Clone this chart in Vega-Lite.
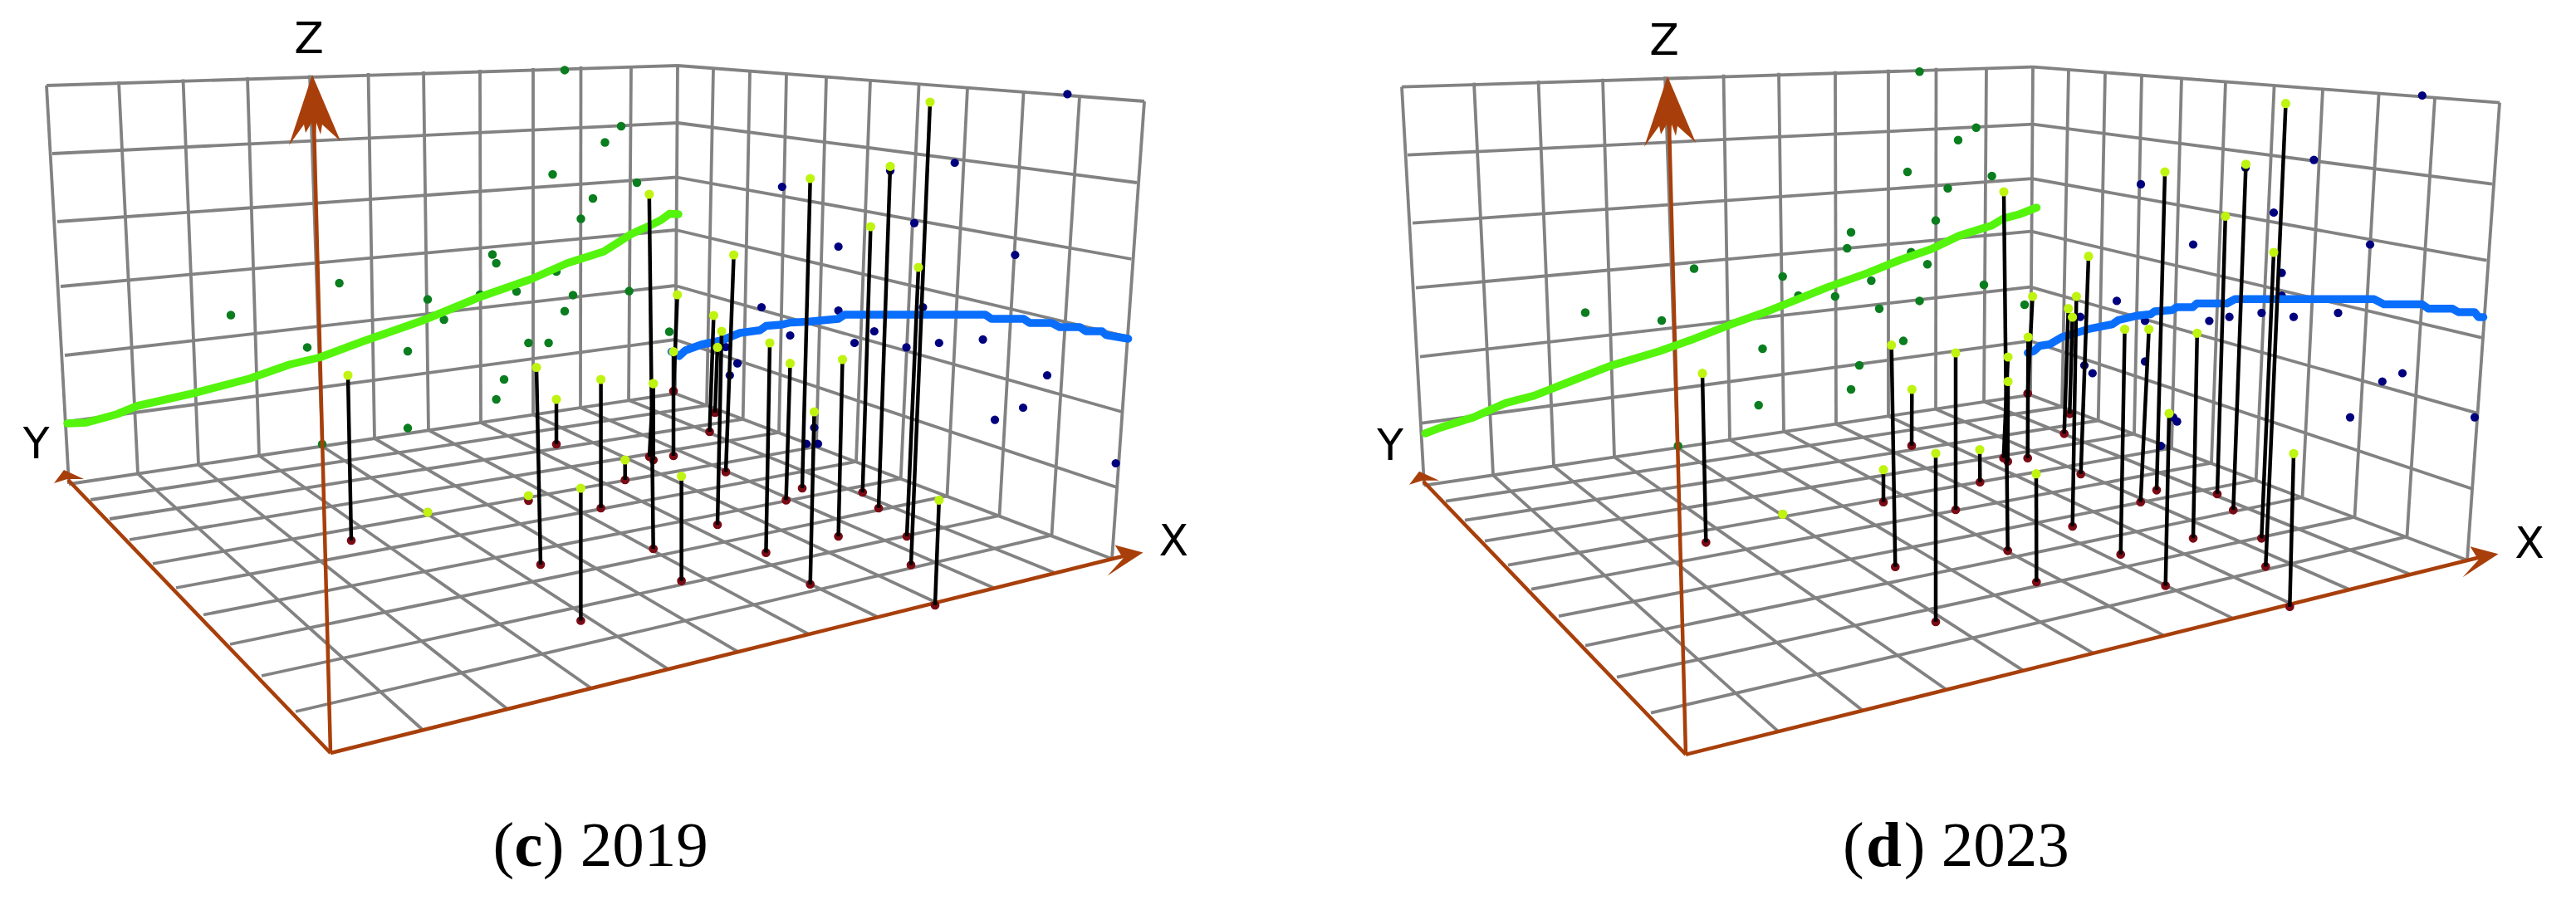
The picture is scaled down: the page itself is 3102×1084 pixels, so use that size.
{
"$schema":"https://vega.github.io/schema/vega-lite/v6.json",
"width":3102,"height":1084,"padding":0,"background":"white",
"autosize":{"type":"fit","contains":"padding"},
"config":{"view":{"stroke":null}},
"datasets":{
"grid":[
{"x":56,"y":103,"x2":83,"y2":583},{"x":143,"y":98,"x2":166,"y2":570.6},{"x":220.5,"y":95.5,"x2":239,"y2":559.7},{"x":298,"y":93,"x2":312,"y2":548.8},{"x":373,"y":90.5,"x2":388,"y2":537.5},{"x":443.5,"y":88,"x2":451,"y2":528},{"x":510,"y":86,"x2":516,"y2":518},{"x":578,"y":84,"x2":579,"y2":509},{"x":642,"y":82,"x2":642,"y2":499.5},{"x":699.5,"y":80,"x2":699,"y2":491},{"x":760,"y":79.5,"x2":757,"y2":482},{"x":816,"y":79,"x2":813,"y2":474},
{"x":56,"y":103,"x2":816,"y2":79},{"x":63,"y":185,"x2":816,"y2":148},{"x":69,"y":267,"x2":815,"y2":213.5},{"x":73,"y":345,"x2":814,"y2":277},{"x":78,"y":428,"x2":813,"y2":344},{"x":80,"y":508,"x2":813,"y2":409},{"x":83,"y":583,"x2":813,"y2":474},
{"x":859,"y":82.5,"x2":851,"y2":488.3},{"x":903,"y":85.9,"x2":894.7,"y2":504.8},{"x":947,"y":89.2,"x2":938,"y2":521},{"x":995,"y":92.9,"x2":983,"y2":538},{"x":1048,"y":97,"x2":1031,"y2":556},{"x":1106.6,"y":101.5,"x2":1084.7,"y2":576.3},{"x":1165,"y":106,"x2":1140.5,"y2":597.3},{"x":1232.6,"y":111,"x2":1203.5,"y2":621},{"x":1300,"y":116.3,"x2":1266.5,"y2":644.7},{"x":1378,"y":122,"x2":1339,"y2":673},
{"x":816,"y":79,"x2":1378,"y2":122},{"x":816,"y":148,"x2":1369,"y2":220},{"x":815,"y":213.5,"x2":1362.5,"y2":312},{"x":814,"y":277,"x2":1356,"y2":405},{"x":813,"y":344,"x2":1351,"y2":496},{"x":813,"y":409,"x2":1345,"y2":587},{"x":813,"y":474,"x2":1339,"y2":673},
{"x":109,"y":602,"x2":851,"y2":488.3},{"x":132,"y":625,"x2":894.7,"y2":504.8},{"x":156,"y":650,"x2":938,"y2":521},{"x":184,"y":679,"x2":983,"y2":538},{"x":212,"y":708,"x2":1031,"y2":556},{"x":245,"y":740.5,"x2":1084.7,"y2":576.3},{"x":277,"y":776,"x2":1140.5,"y2":597.3},{"x":315,"y":814,"x2":1203.5,"y2":621},{"x":356,"y":857,"x2":1266.5,"y2":644.7},
{"x":509,"y":879,"x2":166,"y2":570.6},{"x":611,"y":854,"x2":239,"y2":559.7},{"x":712,"y":829,"x2":312,"y2":548.8},{"x":804,"y":805.6,"x2":388,"y2":537.5},{"x":888,"y":784.6,"x2":451,"y2":528},{"x":973,"y":763.4,"x2":516,"y2":518},{"x":1056,"y":742.7,"x2":579,"y2":509},{"x":1126,"y":725,"x2":642,"y2":499.5},{"x":1196,"y":707.7,"x2":699,"y2":491},{"x":1269,"y":689.5,"x2":757,"y2":482},
{"x":1688,"y":104.7,"x2":1715,"y2":584.7},{"x":1775,"y":99.7,"x2":1798,"y2":572.3},{"x":1852.5,"y":97.2,"x2":1871,"y2":561.4},{"x":1930,"y":94.7,"x2":1944,"y2":550.5},{"x":2005,"y":92.2,"x2":2020,"y2":539.2},{"x":2075.5,"y":89.7,"x2":2083,"y2":529.7},{"x":2142,"y":87.7,"x2":2148,"y2":519.7},{"x":2210,"y":85.7,"x2":2211,"y2":510.7},{"x":2274,"y":83.7,"x2":2274,"y2":501.2},{"x":2331.5,"y":81.7,"x2":2331,"y2":492.7},{"x":2392,"y":81.2,"x2":2389,"y2":483.7},{"x":2448,"y":80.7,"x2":2445,"y2":475.7},
{"x":1688,"y":104.7,"x2":2448,"y2":80.7},{"x":1695,"y":186.7,"x2":2448,"y2":149.7},{"x":1701,"y":268.7,"x2":2447,"y2":215.2},{"x":1705,"y":346.7,"x2":2446,"y2":278.7},{"x":1710,"y":429.7,"x2":2445,"y2":345.7},{"x":1712,"y":509.7,"x2":2445,"y2":410.7},{"x":1715,"y":584.7,"x2":2445,"y2":475.7},
{"x":2491,"y":84.2,"x2":2483,"y2":490},{"x":2535,"y":87.6,"x2":2526.7,"y2":506.5},{"x":2579,"y":90.9,"x2":2570,"y2":522.7},{"x":2627,"y":94.6,"x2":2615,"y2":539.7},{"x":2680,"y":98.7,"x2":2663,"y2":557.7},{"x":2738.6,"y":103.2,"x2":2716.7,"y2":578},{"x":2797,"y":107.7,"x2":2772.5,"y2":599},{"x":2864.6,"y":112.7,"x2":2835.5,"y2":622.7},{"x":2932,"y":118,"x2":2898.5,"y2":646.4},{"x":3010,"y":123.7,"x2":2971,"y2":674.7},
{"x":2448,"y":80.7,"x2":3010,"y2":123.7},{"x":2448,"y":149.7,"x2":3001,"y2":221.7},{"x":2447,"y":215.2,"x2":2994.5,"y2":313.7},{"x":2446,"y":278.7,"x2":2988,"y2":406.7},{"x":2445,"y":345.7,"x2":2983,"y2":497.7},{"x":2445,"y":410.7,"x2":2977,"y2":588.7},{"x":2445,"y":475.7,"x2":2971,"y2":674.7},
{"x":1741,"y":603.7,"x2":2483,"y2":490},{"x":1764,"y":626.7,"x2":2526.7,"y2":506.5},{"x":1788,"y":651.7,"x2":2570,"y2":522.7},{"x":1816,"y":680.7,"x2":2615,"y2":539.7},{"x":1844,"y":709.7,"x2":2663,"y2":557.7},{"x":1877,"y":742.2,"x2":2716.7,"y2":578},{"x":1909,"y":777.7,"x2":2772.5,"y2":599},{"x":1947,"y":815.7,"x2":2835.5,"y2":622.7},{"x":1988,"y":858.7,"x2":2898.5,"y2":646.4},
{"x":2141,"y":880.7,"x2":1798,"y2":572.3},{"x":2243,"y":855.7,"x2":1871,"y2":561.4},{"x":2344,"y":830.7,"x2":1944,"y2":550.5},{"x":2436,"y":807.3,"x2":2020,"y2":539.2},{"x":2520,"y":786.3,"x2":2083,"y2":529.7},{"x":2605,"y":765.1,"x2":2148,"y2":519.7},{"x":2688,"y":744.4,"x2":2211,"y2":510.7},{"x":2758,"y":726.7,"x2":2274,"y2":501.2},{"x":2828,"y":709.4,"x2":2331,"y2":492.7},{"x":2901,"y":691.2,"x2":2389,"y2":483.7}
],
"axes":[
{"x":398,"y":907,"x2":1352,"y2":670},{"x":398,"y":907,"x2":82,"y2":578},{"x":398,"y":907,"x2":378,"y2":148},
{"x":2030,"y":908.7,"x2":2984,"y2":671.7},{"x":2030,"y":908.7,"x2":1714,"y2":579.7},{"x":2030,"y":908.7,"x2":2010,"y2":149.7}
],
"greenDots":[
{"x":680,"y":84.4},{"x":748,"y":152},{"x":728.5,"y":171.5},{"x":665.5,"y":210},{"x":714,"y":239},{"x":699.5,"y":263.5},{"x":593,"y":306.5},{"x":597.6,"y":317},{"x":408.6,"y":341},{"x":278,"y":379.5},{"x":515,"y":360.6},{"x":578,"y":354.7},{"x":622,"y":351},{"x":670,"y":327},{"x":690,"y":355.4},{"x":757.6,"y":350.6},{"x":680,"y":374.7},{"x":534.6,"y":385},{"x":370,"y":418.4},{"x":491,"y":423},{"x":636.4,"y":413},{"x":660.6,"y":413},{"x":607,"y":457},{"x":597.6,"y":481},{"x":491,"y":515.6},{"x":388,"y":535},{"x":767,"y":220},{"x":806,"y":399.5},
{"x":2311.5,"y":86.2},{"x":2358,"y":168.8},{"x":2297,"y":207},{"x":2345.5,"y":226.7},{"x":2331,"y":265.6},{"x":2229,"y":279.7},{"x":2224.3,"y":299},{"x":2301.4,"y":303.8},{"x":2321,"y":318.3},{"x":2040,"y":323.5},{"x":2146.7,"y":333},{"x":2253.4,"y":338},{"x":2165.6,"y":356},{"x":2209.8,"y":357},{"x":2311.5,"y":362.4},{"x":2263,"y":371.7},{"x":1909,"y":376.5},{"x":2001,"y":386},{"x":2292,"y":410.6},{"x":2122.5,"y":420},{"x":2239,"y":440},{"x":2229,"y":469},{"x":2117.7,"y":488},{"x":2020.7,"y":537},{"x":2379.7,"y":153.7},{"x":2398.6,"y":212},{"x":2389,"y":343},{"x":2438,"y":367}
],
"blueDots":[
{"x":1285.4,"y":113.3},{"x":1149.7,"y":196},{"x":1072,"y":205.6},{"x":941.8,"y":225},{"x":1101,"y":268.6},{"x":1009.6,"y":297},{"x":1222.4,"y":307},{"x":917,"y":370},{"x":1009.6,"y":374},{"x":1111.4,"y":370},{"x":951.5,"y":404},{"x":1052.8,"y":399},{"x":1029,"y":413},{"x":1091.5,"y":418.4},{"x":1130.8,"y":413},{"x":1183.6,"y":408.8},{"x":874,"y":418},{"x":888,"y":437.7},{"x":878.8,"y":452},{"x":1261,"y":452},{"x":1232,"y":491},{"x":1198,"y":505.6},{"x":980.5,"y":515},{"x":971,"y":534.5},{"x":985,"y":534.5},{"x":1343.6,"y":558},
{"x":2916.8,"y":115},{"x":2786.4,"y":192.6},{"x":2704,"y":202},{"x":2578,"y":221.9},{"x":2641,"y":294.5},{"x":2738,"y":256},{"x":2854,"y":294.5},{"x":2747.6,"y":328.6},{"x":2549,"y":362.4},{"x":2747.6,"y":356},{"x":2505,"y":381.7},{"x":2583,"y":386.5},{"x":2660.4,"y":386.5},{"x":2684.6,"y":381.7},{"x":2723.4,"y":376.8},{"x":2762,"y":381.7},{"x":2815.5,"y":376.8},{"x":2583,"y":435.4},{"x":2510,"y":440},{"x":2519.8,"y":449.5},{"x":2868.8,"y":459.5},{"x":2893,"y":449.5},{"x":2830,"y":502.6},{"x":2980,"y":502.6},{"x":2616.8,"y":502.6},{"x":2621.6,"y":507.7},{"x":2602,"y":537}
],
"limeCurve":[
{"p":"c","x":81,"y":510},{"p":"c","x":104,"y":509},{"p":"c","x":140.5,"y":499},{"p":"c","x":165,"y":489},{"p":"c","x":233,"y":473.6},{"p":"c","x":300.5,"y":456},{"p":"c","x":349,"y":439},{"p":"c","x":385,"y":430.5},{"p":"c","x":436,"y":411.5},{"p":"c","x":509,"y":386},{"p":"c","x":577,"y":358},{"p":"c","x":640,"y":336},{"p":"c","x":683,"y":317},{"p":"c","x":727,"y":303},{"p":"c","x":760,"y":282},{"p":"c","x":782,"y":272},{"p":"c","x":796,"y":265},{"p":"c","x":806,"y":257.6},{"p":"c","x":817,"y":258},
{"p":"d","x":1716.3,"y":522},{"p":"d","x":1735.7,"y":514.6},{"p":"d","x":1774.5,"y":502.6},{"p":"d","x":1813.3,"y":485.3},{"p":"d","x":1847.2,"y":476.7},{"p":"d","x":1890.8,"y":459.5},{"p":"d","x":1939.3,"y":440.6},{"p":"d","x":1997.5,"y":423.3},{"p":"d","x":2036,"y":409.6},{"p":"d","x":2084.7,"y":390.6},{"p":"d","x":2123.5,"y":376.8},{"p":"d","x":2162.3,"y":361.4},{"p":"d","x":2201,"y":345.9},{"p":"d","x":2249.5,"y":328.6},{"p":"d","x":2288.3,"y":313},{"p":"d","x":2327,"y":299.4},{"p":"d","x":2359.4,"y":283.9},{"p":"d","x":2398,"y":271.8},{"p":"d","x":2412.7,"y":263.2},{"p":"d","x":2432,"y":258},{"p":"d","x":2452.5,"y":250}
],
"blueCurve":[
{"p":"c","x":808.5,"y":423.6},{"p":"c","x":818,"y":428.8},{"p":"c","x":825.4,"y":422},{"p":"c","x":844.8,"y":415},{"p":"c","x":869,"y":410},{"p":"c","x":891,"y":401},{"p":"c","x":915,"y":397.8},{"p":"c","x":922.4,"y":392.6},{"p":"c","x":941.8,"y":391},{"p":"c","x":951.5,"y":388.5},{"p":"c","x":973,"y":387.5},{"p":"c","x":1009.6,"y":384},{"p":"c","x":1017,"y":379},{"p":"c","x":1186.5,"y":379},{"p":"c","x":1193.8,"y":384},{"p":"c","x":1232.6,"y":384},{"p":"c","x":1240,"y":389},{"p":"c","x":1266.5,"y":389},{"p":"c","x":1276,"y":394},{"p":"c","x":1300.4,"y":394},{"p":"c","x":1307.7,"y":399},{"p":"c","x":1327,"y":399},{"p":"c","x":1332,"y":403.6},{"p":"c","x":1358.6,"y":408},
{"p":"d","x":2441.8,"y":425},{"p":"d","x":2449,"y":423},{"p":"d","x":2456.3,"y":416.5},{"p":"d","x":2468.4,"y":414.7},{"p":"d","x":2483,"y":406},{"p":"d","x":2500,"y":401},{"p":"d","x":2517,"y":395.8},{"p":"d","x":2543.6,"y":390.6},{"p":"d","x":2551,"y":385.5},{"p":"d","x":2572.7,"y":380.3},{"p":"d","x":2589.6,"y":378.6},{"p":"d","x":2594.5,"y":375},{"p":"d","x":2616,"y":373.4},{"p":"d","x":2621,"y":370},{"p":"d","x":2640.5,"y":370},{"p":"d","x":2645.4,"y":365.5},{"p":"d","x":2681.7,"y":365.5},{"p":"d","x":2691.4,"y":360.3},{"p":"d","x":2858.6,"y":360.3},{"p":"d","x":2870.7,"y":366.5},{"p":"d","x":2916.8,"y":366.5},{"p":"d","x":2924,"y":371.7},{"p":"d","x":2953,"y":371.7},{"p":"d","x":2960.4,"y":376},{"p":"d","x":2980,"y":376},{"p":"d","x":2984.7,"y":382},{"p":"d","x":2990.5,"y":382}
],
"sticks":[
{"x":419,"y":452,"x2":423,"y2":651},{"x":646,"y":442.5,"x2":651,"y2":680},{"x":670,"y":481,"x2":670,"y2":535},{"x":723.6,"y":457,"x2":723.6,"y2":612},{"x":752.7,"y":554,"x2":752.7,"y2":578},{"x":636.4,"y":597,"x2":636.4,"y2":603},{"x":699.4,"y":588,"x2":699.4,"y2":747.5},{"x":515,"y":617,"x2":515,"y2":617},{"x":781.8,"y":234,"x2":786.7,"y2":661},{"x":786.7,"y":462,"x2":782,"y2":550},{"x":786.7,"y":462,"x2":786.7,"y2":554},{"x":811,"y":423.6,"x2":811,"y2":549},{"x":815.7,"y":355,"x2":811,"y2":471},{"x":859.4,"y":380,"x2":854.5,"y2":520},{"x":869,"y":399,"x2":864,"y2":632},{"x":864,"y":418.4,"x2":861,"y2":497},{"x":883.6,"y":307,"x2":874,"y2":568.4},{"x":927,"y":413,"x2":922.4,"y2":665.6},{"x":951.5,"y":437.7,"x2":946.6,"y2":602.4},{"x":975.7,"y":215,"x2":966,"y2":588},{"x":980.5,"y":496,"x2":975.7,"y2":703.7},{"x":1014.5,"y":433,"x2":1009.6,"y2":646},{"x":1048.4,"y":273,"x2":1038.7,"y2":593},{"x":1072,"y":200.4,"x2":1058,"y2":612},{"x":1106,"y":322,"x2":1092,"y2":646},{"x":1120,"y":123,"x2":1097,"y2":680.5},{"x":820.6,"y":573.6,"x2":820.6,"y2":699.6},{"x":1130.8,"y":602.4,"x2":1126,"y2":729},
{"x":2050,"y":449.7,"x2":2054.3,"y2":653.3},{"x":2146.7,"y":619.3,"x2":2146.7,"y2":619.3},{"x":2277.7,"y":415.7,"x2":2282.3,"y2":682.7},{"x":2302.3,"y":469,"x2":2302,"y2":536.7},{"x":2268,"y":565.7,"x2":2268,"y2":604.7},{"x":2331,"y":546,"x2":2331,"y2":749},{"x":2752.5,"y":124.7,"x2":2728.3,"y2":682.3},{"x":2704.5,"y":197.8,"x2":2689.3,"y2":614.3},{"x":2607,"y":207,"x2":2597,"y2":590.3},{"x":2679.8,"y":260.4,"x2":2670,"y2":595},{"x":2738,"y":304,"x2":2723.3,"y2":648.3},{"x":2515,"y":308.7,"x2":2505.7,"y2":571},{"x":2413,"y":231,"x2":2417.7,"y2":663.3},{"x":2447.6,"y":357,"x2":2441.7,"y2":474},{"x":2500.4,"y":357,"x2":2495.7,"y2":634},{"x":2490.7,"y":371.7,"x2":2485.7,"y2":522.3},{"x":2495.6,"y":382,"x2":2492.3,"y2":498.3},{"x":2558.6,"y":396.5,"x2":2553.7,"y2":667.7},{"x":2587.7,"y":396.5,"x2":2577.7,"y2":604.7},{"x":2645.8,"y":401.3,"x2":2641,"y2":648.3},{"x":2442.3,"y":406,"x2":2441.7,"y2":551.7},{"x":2355,"y":425,"x2":2355,"y2":614},{"x":2418,"y":430,"x2":2412.7,"y2":551.7},{"x":2418,"y":459.5,"x2":2417.7,"y2":555.7},{"x":2384,"y":541.5,"x2":2384.3,"y2":580.7},{"x":2452,"y":570.7,"x2":2452.3,"y2":701},{"x":2612,"y":498,"x2":2607.7,"y2":705.4},{"x":2762,"y":546.3,"x2":2757.3,"y2":730.7}
],
"axisLabels":[
{"x":372,"y":64,"t":"Z"},{"x":43.6,"y":552,"t":"Y"},{"x":1413.4,"y":669,"t":"X"},
{"x":2004,"y":65.7,"t":"Z"},{"x":1674,"y":554,"t":"Y"},{"x":3046,"y":671.7,"t":"X"}
],
"captionPlain":[
{"x":593.6,"y":1042.7,"t":"("},{"x":653.8,"y":1042.7,"t":") 2019"},
{"x":2219,"y":1042.7,"t":"("},{"x":2292.8,"y":1042.7,"t":") 2023"}
],
"captionBold":[
{"x":619.2,"y":1042.7,"t":"c"},{"x":2247,"y":1042.7,"t":"d"}
]
},
"encoding":{
"x":{"field":"x","type":"quantitative","scale":{"domain":[0,3102],"nice":false,"zero":false},"axis":null},
"y":{"field":"y","type":"quantitative","scale":{"domain":[1084,0],"nice":false,"zero":false},"axis":null}
},
"layer":[
{"data":{"name":"grid"},"mark":{"type":"rule","color":"#828282","strokeWidth":3.8},"encoding":{"x2":{"field":"x2"},"y2":{"field":"y2"}}},
{"data":{"name":"greenDots"},"mark":{"type":"circle","color":"#0a7d1e","size":110,"opacity":1}},
{"data":{"name":"blueDots"},"mark":{"type":"circle","color":"#00007e","size":105,"opacity":1}},
{"data":{"name":"axes"},"mark":{"type":"rule","color":"#a83f0a","strokeWidth":4.5},"encoding":{"x2":{"field":"x2"},"y2":{"field":"y2"}}},
{"data":{"values":[{"x":376,"y":90},{"x":2008,"y":91.7}]},"mark":{"type":"point","shape":"M0,0L34,80L12,60L10,72L5,58L3,85L-1,58L-8,70L-10,60L-28,85Z","size":4,"filled":true,"color":"#a83f0a","opacity":1,"strokeWidth":0}},
{"data":{"values":[{"x":1376.5,"y":665.6},{"x":3008.5,"y":667.3}]},"mark":{"type":"point","shape":"M0,0L-34,-9L-24,7L-43,28Z","size":4,"filled":true,"color":"#a83f0a","opacity":1,"strokeWidth":0}},
{"data":{"values":[{"x":77,"y":566},{"x":1709,"y":567.7}]},"mark":{"type":"point","shape":"M0,0L24,11L4,11L-12,16Z","size":4,"filled":true,"color":"#a83f0a","opacity":1,"strokeWidth":0}},
{"data":{"name":"limeCurve"},"mark":{"type":"line","color":"#55f40c","strokeWidth":9.5,"strokeCap":"round","strokeJoin":"round"},"encoding":{"detail":{"field":"p"}}},
{"data":{"name":"blueCurve"},"mark":{"type":"line","color":"#0a6efc","strokeWidth":9.5,"strokeCap":"round","strokeJoin":"round"},"encoding":{"detail":{"field":"p"}}},
{"data":{"name":"sticks"},"mark":{"type":"circle","color":"#7a0a14","size":115,"opacity":1},"encoding":{"x":{"field":"x2","type":"quantitative","axis":null},"y":{"field":"y2","type":"quantitative","axis":null}}},
{"data":{"name":"sticks"},"mark":{"type":"rule","color":"#000000","strokeWidth":4.5},"encoding":{"x2":{"field":"x2"},"y2":{"field":"y2"}}},
{"data":{"name":"sticks"},"mark":{"type":"circle","color":"#bff410","size":125,"opacity":1}},
{"data":{"name":"axisLabels"},"mark":{"type":"text","font":"DejaVu Sans","fontSize":52,"align":"center","baseline":"alphabetic","color":"#000000"},"encoding":{"text":{"field":"t"}}},
{"data":{"name":"captionPlain"},"mark":{"type":"text","font":"Liberation Serif","fontSize":77,"align":"left","baseline":"alphabetic","color":"#000000"},"encoding":{"text":{"field":"t"}}},
{"data":{"name":"captionBold"},"mark":{"type":"text","font":"Liberation Serif","fontWeight":"bold","fontSize":77,"align":"left","baseline":"alphabetic","color":"#000000"},"encoding":{"text":{"field":"t"}}}
]
}
